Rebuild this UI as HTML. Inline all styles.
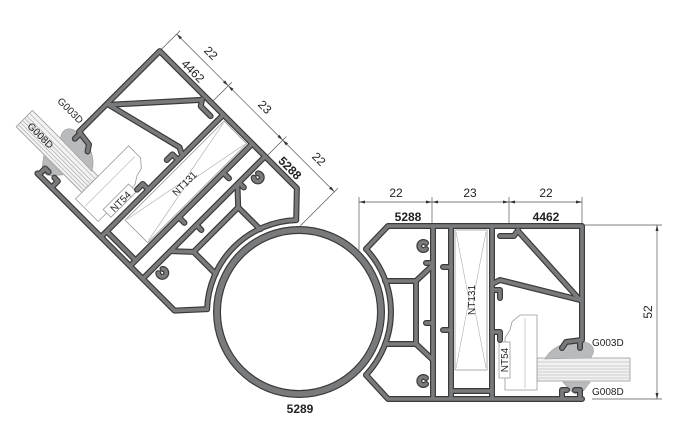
<!DOCTYPE html>
<html><head><meta charset="utf-8"><style>
html,body{margin:0;padding:0;background:#fff;}
svg{display:block;}
text{font-family:"Liberation Sans",sans-serif;fill:#222;}
</style></head><body>
<svg width="679" height="448" viewBox="0 0 679 448" xmlns="http://www.w3.org/2000/svg">
<defs>
<g id="walls" fill="none" stroke-linejoin="round" stroke-linecap="round">
  <path d="M366,249 L388,226 H582 V340 L566,342 L562,348"/>
  <path d="M366,375 L388,399 H582"/>
  <path d="M366,249 A92,92 0 0 1 366,375"/>
  <path d="M385,281 H416 L432,266 M416,281 V344 M385,344 H416 L432,359"/>
  <path d="M433,226 V399 M451,226 V399 M492,226 V399"/>
  <path d="M433,263 h-7 M433,323 h-7"/>
  <path d="M426,243 a4,4 0 1 0 0,6 M426,378 a4,4 0 1 0 0,6"/>
  <path d="M451,267 h-8 M451,330 h-8"/>
  <path d="M451,391 H492"/>
  <path d="M500,236 H514 L518,230"/>
  <path d="M518,231 L580,300"/>
  <path d="M494,283 L500,280 L580,300"/>
  <path d="M492,290 h8 v8 M492,332 h8 v8"/>
  <path d="M562,399 V390 h5 M580,399 V390 h-5"/>
  <path d="M580,340 v8"/>
</g>
<g id="prof">
  <g stroke="#555" stroke-width="0.7" fill="none">
    <line x1="359" y1="202" x2="582" y2="202"/>
    <line x1="359" y1="197" x2="359" y2="250"/>
    <line x1="432" y1="197" x2="432" y2="224"/>
    <line x1="509" y1="197" x2="509" y2="224"/>
    <line x1="582" y1="197" x2="582" y2="224"/>
  </g>
  <path fill="#333" d="M359,202 l6,-1.5 v3z M432,202 l-6,-1.5 v3z M432,202 l6,-1.5 v3z M509,202 l-6,-1.5 v3z M509,202 l6,-1.5 v3z M582,202 l-6,-1.5 v3z"/>
  <rect x="537" y="358" width="93" height="23" stroke="#999" stroke-width="0.8" fill="#f2f2f2"/>
  <g stroke="#aaa" stroke-width="0.6">
    <line x1="537" y1="362" x2="630" y2="362"/>
    <line x1="537" y1="366" x2="630" y2="366"/>
    <line x1="537" y1="369" x2="630" y2="369"/>
    <line x1="537" y1="372" x2="630" y2="372"/>
    <line x1="537" y1="375" x2="630" y2="375"/>
    <line x1="537" y1="378" x2="630" y2="378"/>
  </g>
  <g stroke="#999" stroke-width="0.8" fill="#fff">
    <path d="M520,315 H537 V390 H505 V338 L510,330 L512,322 Z"/>
    <rect x="455" y="230" width="32" height="140"/>
    <rect x="499" y="342" width="11" height="36"/>
  </g>
  <g stroke="#aaa" stroke-width="0.6">
    <line x1="456" y1="232" x2="469" y2="300"/><line x1="486" y1="232" x2="473" y2="300"/>
    <line x1="456" y1="368" x2="469" y2="300"/><line x1="486" y1="368" x2="473" y2="300"/>
    <line x1="525" y1="318" x2="525" y2="388"/>
  </g>
  <path d="M545,359 C552,346 568,340 585,342 C594,344 596,352 590,358 Z" fill="#b9babc" stroke="#999" stroke-width="0.6"/>
  <path d="M563,382 H590 L584,390 Q577,398 570,390 Z" fill="#b9babc" stroke="#999" stroke-width="0.6"/>
  <use href="#walls" stroke="#3a3a3a" stroke-width="6"/>
  <use href="#walls" stroke="#797a7c" stroke-width="3.6"/>
</g>
</defs>

<circle cx="299" cy="312" r="82" fill="none" stroke="#3a3a3a" stroke-width="8"/>
<circle cx="299" cy="312" r="82" fill="none" stroke="#797a7c" stroke-width="5.6"/>

<use href="#prof"/>
<g transform="translate(299,312) rotate(225) scale(1,-1) translate(-299,-312)">
  <use href="#prof"/>
</g>

<g stroke="#555" stroke-width="0.7">
  <line x1="584" y1="225" x2="662" y2="225"/>
  <line x1="592" y1="399" x2="662" y2="399"/>
  <line x1="657" y1="225" x2="657" y2="399"/>
</g>
<path d="M657,225 l-1.5,6 h3z M657,399 l-1.5,-6 h3z" fill="#333"/>

<g font-size="12">
  <text x="396" y="197" text-anchor="middle">22</text>
  <text x="470" y="197" text-anchor="middle">23</text>
  <text x="546" y="197" text-anchor="middle">22</text>
  <text x="408" y="221" text-anchor="middle" font-weight="bold">5288</text>
  <text x="546" y="221" text-anchor="middle" font-weight="bold">4462</text>
  <text x="300" y="413" text-anchor="middle" font-weight="bold">5289</text>
  <text transform="translate(652,312) rotate(-90)" text-anchor="middle">52</text>
</g>
<g font-size="10">
  <text x="592" y="346">G003D</text>
  <text x="592" y="395">G008D</text>
  <text transform="translate(475,300) rotate(-90)" text-anchor="middle">NT131</text>
  <text transform="translate(508,360) rotate(-90)" text-anchor="middle">NT54</text>
</g>

<g font-size="12">
  <text transform="translate(208,56) rotate(45)" text-anchor="middle">22</text>
  <text transform="translate(262,110) rotate(45)" text-anchor="middle">23</text>
  <text transform="translate(316,162) rotate(45)" text-anchor="middle">22</text>
  <text transform="translate(190,74) rotate(45)" text-anchor="middle">4462</text>
  <text transform="translate(287,171) rotate(45)" text-anchor="middle" font-weight="bold">5288</text>
</g>
<g font-size="10">
  <text transform="translate(68,113) rotate(45)" text-anchor="middle">G003D</text>
  <text transform="translate(38,138) rotate(45)" text-anchor="middle">G008D</text>
  <text transform="translate(187,186) rotate(-45)" text-anchor="middle">NT131</text>
  <text transform="translate(123,204) rotate(-45)" text-anchor="middle">NT54</text>
</g>
</svg>
</body></html>
